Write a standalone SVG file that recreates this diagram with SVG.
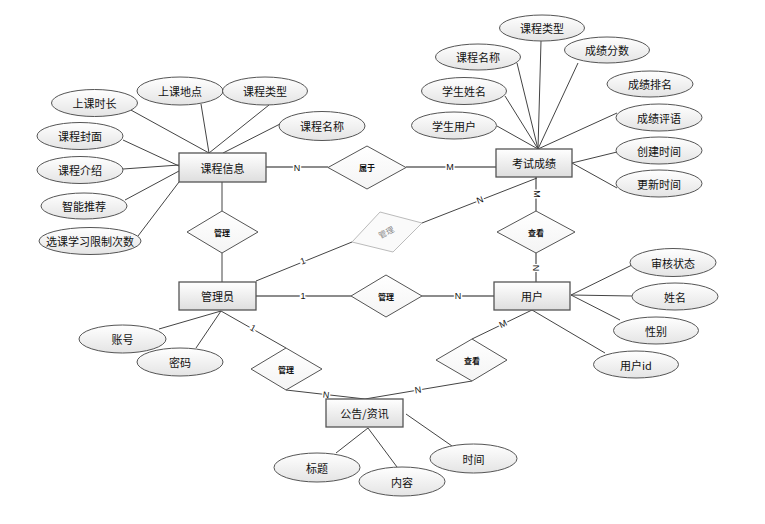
<svg xmlns="http://www.w3.org/2000/svg" width="765" height="524" viewBox="0 0 765 524">
<defs>
<linearGradient id="gE" x1="0" y1="0" x2="0" y2="1"><stop offset="0" stop-color="#ffffff"/><stop offset="1" stop-color="#dedede"/></linearGradient>
<linearGradient id="gA" x1="0" y1="0" x2="0" y2="1"><stop offset="0" stop-color="#ffffff"/><stop offset="1" stop-color="#e4e4e4"/></linearGradient>
<linearGradient id="gD" x1="0" y1="0" x2="0" y2="1"><stop offset="0" stop-color="#ffffff"/><stop offset="1" stop-color="#f4f4f4"/></linearGradient>
</defs>
<style>
.ent{fill:url(#gE);stroke:#555;stroke-width:1.3}
.att{fill:url(#gA);stroke:#555;stroke-width:1}
.dia{fill:url(#gD);stroke:#555;stroke-width:1}
.fade{fill:#fafafa;stroke:#bbb;stroke-width:1}
.ln{stroke:#444;stroke-width:1;fill:none}
.rl{stroke:#666;stroke-width:1.4;fill:none}
text{font-family:"Noto Sans CJK SC","Microsoft YaHei",sans-serif;fill:#111;text-anchor:middle;dominant-baseline:central}
.te{font-size:11px}
.ta{font-size:11px}
.td{font-size:8px;font-weight:bold}
.lb{font-family:"Liberation Sans",Arial,sans-serif;font-size:9px;paint-order:stroke;stroke:#fff;stroke-width:3px}
</style>
<g id="connectors">
<!-- 课程信息 attributes -->
<line class="ln" x1="129" y1="109" x2="209" y2="153"/>
<line class="ln" x1="201" y1="104" x2="209" y2="153"/>
<line class="ln" x1="269" y1="105" x2="209" y2="153"/>
<line class="ln" x1="280" y1="124" x2="223" y2="153"/>
<line class="ln" x1="123" y1="140" x2="179" y2="166"/>
<line class="ln" x1="123" y1="169" x2="179" y2="165"/>
<line class="ln" x1="125" y1="200" x2="179" y2="171"/>
<line class="ln" x1="138" y1="236" x2="179" y2="182"/>
<!-- 考试成绩 attributes -->
<line class="ln" x1="541" y1="41" x2="538" y2="149"/>
<line class="ln" x1="517" y1="63" x2="538" y2="149"/>
<line class="ln" x1="505" y1="96" x2="538" y2="149"/>
<line class="ln" x1="497" y1="126" x2="538" y2="149"/>
<line class="ln" x1="578" y1="63" x2="538" y2="149"/>
<line class="ln" x1="617" y1="113" x2="538" y2="149"/>
<line class="ln" x1="572" y1="163" x2="617" y2="152"/>
<line class="ln" x1="572" y1="163" x2="617" y2="188"/>
<!-- 用户 attributes -->
<line class="ln" x1="571" y1="295" x2="632" y2="265"/>
<line class="ln" x1="571" y1="295" x2="632" y2="296"/>
<line class="ln" x1="571" y1="295" x2="620" y2="320"/>
<line class="ln" x1="532" y1="310" x2="605" y2="353"/>
<!-- 管理员 attributes -->
<line class="ln" x1="221" y1="311" x2="159" y2="329"/>
<line class="ln" x1="221" y1="311" x2="196" y2="348"/>
<!-- 公告 attributes -->
<line class="ln" x1="368" y1="428" x2="336" y2="453"/>
<line class="ln" x1="368" y1="428" x2="397" y2="467"/>
<line class="ln" x1="406" y1="414" x2="452" y2="446"/>
<!-- relationships -->
<line class="rl" x1="266" y1="167" x2="328" y2="167"/>
<line class="rl" x1="406" y1="167" x2="496" y2="167"/>
<line class="rl" x1="536" y1="177" x2="536" y2="211"/>
<line class="rl" x1="536" y1="253" x2="536" y2="282"/>
<line class="ln" x1="222" y1="182" x2="222" y2="211"/>
<line class="ln" x1="222" y1="253" x2="222" y2="282"/>
<line class="ln" x1="256" y1="281" x2="352" y2="242"/>
<line class="ln" x1="422" y1="223" x2="537" y2="178"/>
<line class="rl" x1="256" y1="296" x2="351" y2="296"/>
<line class="rl" x1="422" y1="296" x2="494" y2="296"/>
<line class="ln" x1="221" y1="311" x2="286" y2="348"/>
<line class="ln" x1="286" y1="390" x2="365" y2="399"/>
<line class="ln" x1="532" y1="310" x2="472" y2="339"/>
<line class="ln" x1="472" y1="381" x2="365" y2="399"/>
<!-- cardinality labels -->
<text class="lb" x="297" y="168">N</text>
<text class="lb" x="450" y="167">M</text>
<text class="lb" transform="translate(537,194) rotate(90)">M</text>
<text class="lb" transform="translate(536,268) rotate(90)">N</text>
<text class="lb" transform="translate(303,261) rotate(-22)">1</text>
<text class="lb" transform="translate(480,200) rotate(-21)">N</text>
<text class="lb" x="303" y="296">1</text>
<text class="lb" x="458" y="296">N</text>
<text class="lb" transform="translate(253,328) rotate(29)" font-size="8">1</text>
<text class="lb" transform="translate(326,395) rotate(7)" font-size="8">N</text>
<text class="lb" transform="translate(503,324) rotate(-26)" font-size="8">M</text>
<text class="lb" transform="translate(418,390) rotate(-9)" font-size="8">N</text>
</g>
<g id="kcxx"><rect class="ent" x="179" y="153" width="87" height="29"/><text class="te" x="222.5" y="167.5">课程信息</text></g>
<g id="kscj"><rect class="ent" x="496" y="149" width="76" height="28"/><text class="te" x="534" y="163">考试成绩</text></g>
<g id="yh"><rect class="ent" x="494" y="282" width="76" height="28"/><text class="te" x="532" y="296">用户</text></g>
<g id="gly"><rect class="ent" x="179" y="282" width="77" height="28"/><text class="te" x="217.5" y="296">管理员</text></g>
<g id="gg"><rect class="ent" x="326" y="399" width="77" height="28"/><text class="te" x="364.5" y="413">公告/资讯</text></g>
<g id="r-sy"><polygon class="dia" points="328,167.5 367,146 406,167.5 367,189"/><text class="td" x="367" y="167.5">属于</text></g>
<g id="r-gl1"><polygon class="dia" points="187,232 222,211 258,232 222,253"/><text class="td" x="222" y="232">管理</text></g>
<g id="r-gl2"><polygon class="fade" points="352,242 380,212 422,223 393,252"/><text class="td" transform="translate(386,232) rotate(-28)" style="fill:#888;font-weight:normal">管理</text></g>
<g id="r-gl3"><polygon class="dia" points="351,296 386,275 422,296 386,317"/><text class="td" x="386" y="296">管理</text></g>
<g id="r-ck1"><polygon class="dia" points="497,232 536,211 575,232 536,253"/><text class="td" x="536" y="232">查看</text></g>
<g id="r-gl4"><polygon class="dia" points="251,369 286,348 322,369 286,390"/><text class="td" x="286" y="369">管理</text></g>
<g id="r-ck2"><polygon class="dia" points="436,360 472,339 507,360 472,381"/><text class="td" x="472" y="360">查看</text></g>
<g id="a-sksc"><ellipse class="att" cx="94.5" cy="103" rx="43" ry="13.5"/><text class="ta" x="94.5" y="103">上课时长</text></g>
<g id="a-skdd"><ellipse class="att" cx="180" cy="91" rx="43" ry="14"/><text class="ta" x="180" y="91">上课地点</text></g>
<g id="a-kclx1"><ellipse class="att" cx="265" cy="91" rx="42.5" ry="14"/><text class="ta" x="265" y="91">课程类型</text></g>
<g id="a-kcmc1"><ellipse class="att" cx="322" cy="126" rx="43" ry="14.5"/><text class="ta" x="322" y="126">课程名称</text></g>
<g id="a-kcfm"><ellipse class="att" cx="80" cy="136" rx="43" ry="13.5"/><text class="ta" x="80" y="136">课程封面</text></g>
<g id="a-kcjs"><ellipse class="att" cx="80" cy="170" rx="43" ry="13.5"/><text class="ta" x="80" y="170">课程介绍</text></g>
<g id="a-zntj"><ellipse class="att" cx="84" cy="206" rx="43" ry="13"/><text class="ta" x="84" y="206">智能推荐</text></g>
<g id="a-xkxx"><ellipse class="att" cx="90" cy="241" rx="51" ry="13.5"/><text class="ta" x="90" y="241">选课学习限制次数</text></g>
<g id="a-kclx2"><ellipse class="att" cx="542" cy="28" rx="42.5" ry="13"/><text class="ta" x="542" y="28">课程类型</text></g>
<g id="a-kcmc2"><ellipse class="att" cx="478" cy="57" rx="42.5" ry="13"/><text class="ta" x="478" y="57">课程名称</text></g>
<g id="a-cjfs"><ellipse class="att" cx="607" cy="50" rx="42.5" ry="13"/><text class="ta" x="607" y="50">成绩分数</text></g>
<g id="a-xsxm"><ellipse class="att" cx="464" cy="91" rx="42.5" ry="13.5"/><text class="ta" x="464" y="91">学生姓名</text></g>
<g id="a-cjpm"><ellipse class="att" cx="650" cy="84" rx="43" ry="13"/><text class="ta" x="650" y="84">成绩排名</text></g>
<g id="a-xsyh"><ellipse class="att" cx="454" cy="125.5" rx="42.5" ry="13.5"/><text class="ta" x="454" y="125.5">学生用户</text></g>
<g id="a-cjpy"><ellipse class="att" cx="659" cy="117.5" rx="43" ry="13.5"/><text class="ta" x="659" y="117.5">成绩评语</text></g>
<g id="a-cjsj"><ellipse class="att" cx="659" cy="150.5" rx="43" ry="13.5"/><text class="ta" x="659" y="150.5">创建时间</text></g>
<g id="a-gxsj"><ellipse class="att" cx="659" cy="183.5" rx="43" ry="13.5"/><text class="ta" x="659" y="183.5">更新时间</text></g>
<g id="a-shzt"><ellipse class="att" cx="673" cy="262.5" rx="43" ry="14"/><text class="ta" x="673" y="262.5">审核状态</text></g>
<g id="a-xm"><ellipse class="att" cx="675" cy="296.5" rx="43" ry="13.5"/><text class="ta" x="675" y="296.5">姓名</text></g>
<g id="a-xb"><ellipse class="att" cx="656" cy="330.5" rx="42.5" ry="13.5"/><text class="ta" x="656" y="330.5">性别</text></g>
<g id="a-yhid"><ellipse class="att" cx="636" cy="364.5" rx="42.5" ry="13.5"/><text class="ta" x="636" y="364.5">用户id</text></g>
<g id="a-zh"><ellipse class="att" cx="122.5" cy="339" rx="43.5" ry="14"/><text class="ta" x="122.5" y="339">账号</text></g>
<g id="a-mm"><ellipse class="att" cx="180" cy="362" rx="43" ry="14"/><text class="ta" x="180" y="362">密码</text></g>
<g id="a-bt"><ellipse class="att" cx="317" cy="467.5" rx="43" ry="14.5"/><text class="ta" x="317" y="467.5">标题</text></g>
<g id="a-nr"><ellipse class="att" cx="402" cy="481.5" rx="43" ry="14.5"/><text class="ta" x="402" y="481.5">内容</text></g>
<g id="a-sj"><ellipse class="att" cx="473.5" cy="458.5" rx="43.5" ry="14.5"/><text class="ta" x="473.5" y="458.5">时间</text></g>
</svg>
